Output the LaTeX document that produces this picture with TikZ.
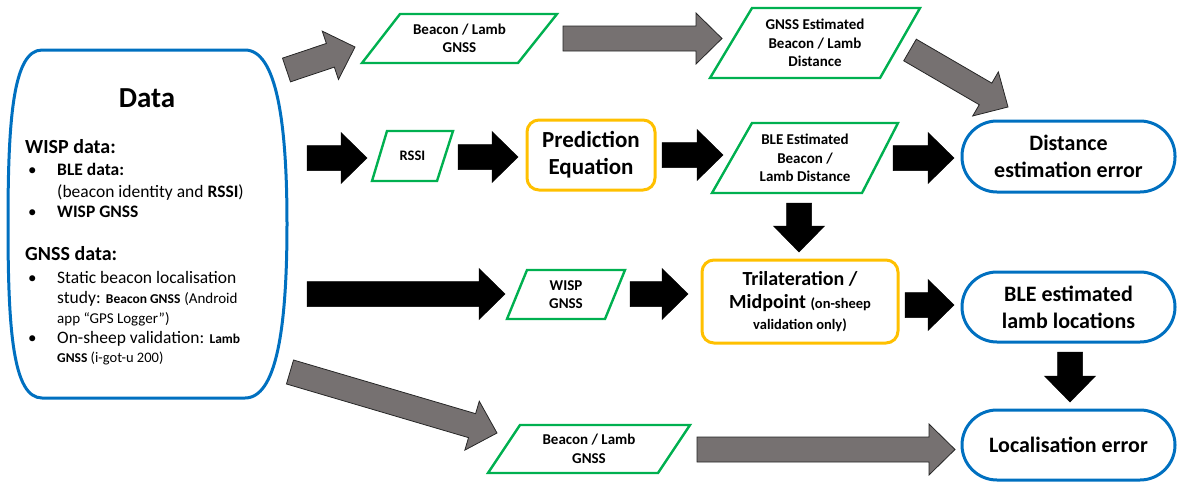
\documentclass[tikz,border=0pt]{standalone}
\usepackage{fontspec}
\setmainfont{Carlito}
\usetikzlibrary{calc}
\definecolor{ablue}{HTML}{0070C0}
\definecolor{agreen}{HTML}{00B050}
\definecolor{ayellow}{HTML}{FFC000}
\definecolor{agray}{HTML}{767171}
\newcommand\blockarrow[3]{%
  \coordinate (hb) at ($(#3)!26pt!(#2)$);
  \draw[#1] ($(#2)!12.5pt!90:(#3)$) -- ($(hb)!12.5pt!90:(#3)$) -- ($(hb)!25.5pt!90:(#3)$)
    -- (#3) -- ($(hb)!25.5pt!-90:(#3)$) -- ($(hb)!12.5pt!-90:(#3)$) -- ($(#2)!12.5pt!-90:(#3)$) -- cycle;}
\newcommand\fs[2]{\fontsize{#1}{#2}\selectfont}
\tikzset{
  garrow/.style={fill=agray, draw=black!85, line width=0.8pt, line join=miter},
  karrow/.style={fill=black, draw=black, line width=0.5pt},
  para/.style={draw=agreen, line width=2.4pt, line join=miter},
  ptext/.style={align=center, font=\bfseries\fs{15}{18.5}, inner sep=0pt},
  ybox/.style={draw=ayellow, line width=3pt, rounded corners=12pt, align=center, inner sep=0pt},
  bbox/.style={draw=ablue, line width=3pt, rounded corners=35pt, align=center, inner sep=0pt,
    minimum width=213pt, font=\bfseries\fs{22}{27}},
  dline/.style={anchor=base west, inner sep=0pt},
}
\begin{document}
\begin{tikzpicture}[x=1pt,y=-1pt]
\useasboundingbox (0,0) rectangle (1178,482);
% Data box
\draw[ablue, line width=3pt] (42,50) -- (245,50) .. controls (276,50) and (287,120) .. (287,224)
  .. controls (287,330) and (276,398) .. (245,398) -- (42,398)
  .. controls (13,398) and (8,330) .. (8,224) .. controls (8,120) and (13,50) .. (42,50);
\node[font=\bfseries\fs{29}{33}, inner sep=0pt] (data) at (147,98) {Data};
\node[dline, font=\bfseries\fs{20}{24}] (wd) at (25,153) {WISP data:};
\node[dline, font=\fs{17}{20}] (b1) at (28,175) {•};
\node[dline, font=\bfseries\fs{17.5}{20}] (l1) at (57,175) {BLE data:};
\node[dline, font=\fs{17.5}{20}] (l2) at (57,197) {(beacon identity and \textbf{RSSI})};
\node[dline, font=\fs{17}{20}] (b2) at (28,217) {•};
\node[dline, font=\bfseries\fs{17.5}{20}] (l3) at (57,217) {WISP GNSS};
\node[dline, font=\bfseries\fs{20}{24}] (gd) at (25,260) {GNSS data:};
\node[dline, font=\fs{17}{20}] (b3) at (28,283) {•};
\node[dline, font=\fs{17.5}{20}] (l4) at (57,283) {Static beacon localisation};
\node[dline, font=\fs{17.5}{20}] (l5) at (57,303) {study: {\bfseries\fs{13.5}{16}Beacon GNSS} {\fs{15}{18}(Android}};
\node[dline, font=\fs{15}{18}] (l6) at (57,323) {app “GPS Logger”)};
\node[dline, font=\fs{17}{20}] (b4) at (28,343) {•};
\node[dline, font=\fs{17.5}{20}] (l7) at (57,343) {On-sheep validation: {\bfseries\fs{13.5}{16}Lamb}};
\node[dline, font=\fs{14.5}{17}] (l8) at (57,362) {{\bfseries\fs{13.5}{16}GNSS} (i-got-u 200)};

% Parallelograms
\draw[para] (400,14) -- (557,14) -- (518,63) -- (362,63) -- cycle;
\node[ptext] (p1) at (459.5,38.5) {Beacon / Lamb\\GNSS};
\draw[para] (752,8) -- (920,8) -- (880,78) -- (710,78) -- cycle;
\node[ptext] (p2) at (815,43) {GNSS Estimated\\Beacon / Lamb\\Distance};
\draw[para] (387,131) -- (453,131) -- (437,181) -- (372,181) -- cycle;
\node[ptext, font=\bfseries\fs{14.5}{17}] (rssi) at (412.5,156) {RSSI};
\draw[para] (752,123) -- (898,123) -- (862,193) -- (712,193) -- cycle;
\node[ptext] (ble) at (805,158) {BLE Estimated\\Beacon /\\Lamb Distance};
\draw[para] (527,270) -- (625,270) -- (605,319) -- (507,319) -- cycle;
\node[ptext] (wisp) at (566,294.5) {WISP\\GNSS};
\draw[para] (520,425) -- (690,425) -- (658,473) -- (488,473) -- cycle;
\node[ptext] (p3) at (589,449) {Beacon / Lamb\\GNSS};

% Yellow process boxes
\node[ybox, minimum width=128pt, minimum height=70pt, font=\bfseries\fs{23}{27}] (pred) at (591,155) {Prediction\\Equation};
\node[ybox, minimum width=196pt, minimum height=83pt, font=\bfseries\fs{20}{23}] (tri) at (800,301.5)
  {Trilateration /\\Midpoint {\fs{14.5}{17}(on-sheep}\\[-2pt]{\fs{14.5}{17}validation only)}};

% Blue outputs
\node[bbox, minimum height=71pt] (dee) at (1068.5,156.5) {Distance\\estimation error};
\node[bbox, minimum height=70pt] (bll) at (1068.5,307) {BLE estimated\\lamb locations};
\node[bbox, minimum height=70pt] (loc) at (1068.5,445) {Localisation error};

% Arrow end points
\coordinate (a1s) at (286.5,70);  \coordinate (a1e) at (355,47);
\coordinate (a2s) at (563,38.5);  \coordinate (a2e) at (722,38.5);
\coordinate (a3s) at (910,50);    \coordinate (a3e) at (1008,107);
\coordinate (a4s) at (307,158);   \coordinate (a4e) at (367,158);
\coordinate (a5s) at (458,157);   \coordinate (a5e) at (518,157);
\coordinate (a6s) at (662,155);   \coordinate (a6e) at (723,155);
\coordinate (a7s) at (893,158);   \coordinate (a7e) at (954,158);
\coordinate (a8s) at (799,203);   \coordinate (a8e) at (799,252);
\coordinate (a9s) at (307,294);   \coordinate (a9e) at (505,294);
\coordinate (a10s) at (630,294); \coordinate (a10e) at (688,294);
\coordinate (a11s) at (905,305); \coordinate (a11e) at (954,305);
\coordinate (a12s) at (1070,352); \coordinate (a12e) at (1070,402);
\coordinate (a13s) at (290,372); \coordinate (a13e) at (497,433);
\coordinate (a14s) at (697,449.5); \coordinate (a14e) at (955,449.5);

\blockarrow{garrow}{a1s}{a1e}
\blockarrow{garrow}{a2s}{a2e}
\blockarrow{garrow}{a3s}{a3e}
\blockarrow{karrow}{a4s}{a4e}
\blockarrow{karrow}{a5s}{a5e}
\blockarrow{karrow}{a6s}{a6e}
\blockarrow{karrow}{a7s}{a7e}
\blockarrow{karrow}{a8s}{a8e}
\blockarrow{karrow}{a9s}{a9e}
\blockarrow{karrow}{a10s}{a10e}
\blockarrow{karrow}{a11s}{a11e}
\blockarrow{karrow}{a12s}{a12e}
\blockarrow{garrow}{a13s}{a13e}
\blockarrow{garrow}{a14s}{a14e}
\end{tikzpicture}
\end{document}
